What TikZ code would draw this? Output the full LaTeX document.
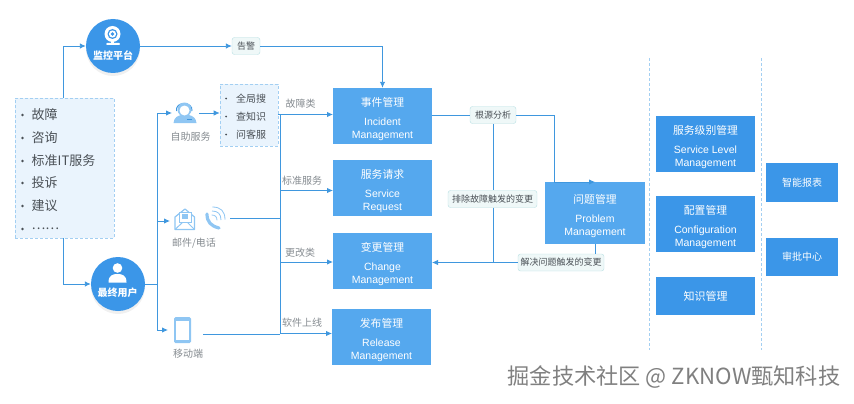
\documentclass[tikz,border=0pt]{standalone}
\usepackage{fontspec}
\setmainfont{Liberation Sans}
\newfontfamily\cjk{Noto Sans CJK SC}
\usetikzlibrary{arrows.meta,shadows}
\definecolor{lineblue}{HTML}{3F97DE}
\definecolor{boxblue}{HTML}{55A8EE}
\definecolor{deepblue}{HTML}{3B96E8}
\definecolor{iconblue}{HTML}{8FC6F3}
\definecolor{paleblue}{HTML}{EAF4FD}
\definecolor{dashblue}{HTML}{A3CFF2}
\definecolor{tagfill}{HTML}{EFF8F8}
\definecolor{tagline}{HTML}{B7DFE2}
\definecolor{greytext}{HTML}{858B90}
\definecolor{darktext}{HTML}{4A5056}
\tikzset{
	flow/.style={draw=lineblue,line width=0.9pt},
	arrow/.style={flow,-{Latex[length=6pt,width=5.5pt]}},
	opsbox/.style={fill=boxblue,text=white,minimum width=99pt,minimum height=56pt,align=center,inner sep=0pt,font=\fontsize{10.5}{13}\selectfont},
	sidebox/.style={opsbox,fill=deepblue},
	hub/.style={circle,fill=deepblue,minimum size=54pt,inner sep=0pt,drop shadow={opacity=0.12,shadow xshift=0pt,shadow yshift=-3pt}},
	hubname/.style={text=white,font=\cjk\bfseries\fontsize{10}{12}\selectfont,inner sep=0pt},
	tag/.style={draw=tagline,fill=tagfill,rounded corners=2.5pt,text=darktext,font=\cjk\fontsize{9}{11}\selectfont,inner sep=0pt,minimum height=17pt},
	note/.style={text=greytext,font=\cjk\fontsize{10}{12}\selectfont,inner sep=0pt},
	listbox/.style={draw=dashblue,fill=paleblue,densely dashed,line width=0.6pt},
	divider/.style={draw=dashblue,densely dashed,line width=0.7pt}
}
\newcommand{\zh}[1]{\rule{0pt}{15pt}{\cjk\fontsize{10.8}{13}\selectfont #1}\\[6pt]}
\begin{document}
\begin{tikzpicture}[x=1pt,y=-1pt]
	\useasboundingbox (0,0) rectangle (854,404);
	% left side: ticket sources
	\node[listbox,minimum width=99pt,minimum height=140pt,inner sep=0pt] (source) at (64.5,168) {};
	\foreach \n/\y/\t in {a/115/故障,b/138/咨询,c/161/标准IT服务,d/183/投诉,e/206/建议,f/229/……}
	\fill[darktext] (22.5,\y) circle (1.3pt) node[anchor=west,xshift=9pt,inner sep=0pt,text=darktext,font=\cjk\fontsize{13}{15}\selectfont] (item\n) {\t};
	\node[hub] (monitor) at (113,46) {};
	\node[hubname] (monitorname) at (113,55.5) {监控平台};
	\node[hub] (user) at (118,284) {};
	\node[hubname] (username) at (117.5,293) {最终用户};
	% webcam
	\fill[white] (112.5,34) circle (8pt);
	\fill[deepblue] (112.5,34) circle (5pt);
	\fill[white] (112.5,34) circle (3.6pt);
	\fill[deepblue] (112.5,34) circle (1.8pt);
	\fill[white] (111,41) rectangle (114,43);
	\fill[white,rounded corners=1pt] (106,43) rectangle (120,45);
	% person
	\fill[white] (117.5,268) circle (4.8pt);
	\fill[white] (108.5,282.5) .. controls (108.5,275) and (113,274) .. (117.5,274) .. controls (122,274) and (126.5,275) .. (126.5,282.5) -- cycle;
	% channels
	\fill[iconblue] (173.5,123) .. controls (174,117) and (178,116) .. (181,115) -- (189,115) .. controls (193,116) and (196,118) .. (196.5,123) -- cycle;
	\draw[lineblue,line width=1pt] (176.5,111) .. controls (175,101) and (193,101) .. (192,111);
	\fill[iconblue] (184.5,109.5) circle (7pt);
	\fill[white] (184.5,110.5) circle (5pt);
	\fill[lineblue] (187,119) rectangle (192,120);
	\node[note] (selfname) at (190.5,137) {自助服务};
	\draw[iconblue,line width=1.2pt,line join=round] (175,217) -- (175,229.5) -- (194.5,229.5) -- (194.5,217) -- (185,209) -- cycle;
	\draw[iconblue,line width=1pt] (175,229.5) -- (183,222) -- (187,222) -- (194.5,229.5);
	\fill[white,draw=iconblue,line width=0.7pt] (179,212) rectangle (191,222);
	\fill[iconblue] (182,214) rectangle (188,219);
	\draw[iconblue,line width=3.2pt,line cap=round] (207,214) .. controls (207,222) and (211,226) .. (219,228);
	\foreach \r in {6,10,14}
	\draw[iconblue,line width=0.8pt] (211+\r*0.1,221-\r) .. controls (211+\r*0.7,221-\r) and (211+\r,221-\r*0.7) .. (211+\r,221-\r*0.1);
	\node[note] (mailname) at (194,243.5) {邮件/电话};
	\fill[iconblue,rounded corners=1.5pt] (174,317) rectangle (191,343);
	\fill[white] (176,320.5) rectangle (189,339.5);
	\node[note] (mobilename) at (188,353.5) {移动端};
	% search box
	\node[listbox,minimum width=58pt,minimum height=62pt,inner sep=0pt] (quick) at (249,115) {};
	\foreach \n/\y/\t in {a/98.5/全局搜,b/116.5/查知识,c/134.5/问客服}
	\fill[darktext] (226,\y) circle (1pt) node[anchor=west,xshift=10pt,inner sep=0pt,text=darktext,font=\cjk\fontsize{10}{12}\selectfont] (quick\n) {\t};
	% process boxes
	\node[opsbox] (incident) at (382.5,116) {\zh{事件管理}Incident\\Management};
	\node[opsbox] (request) at (382.5,188) {\zh{服务请求}Service\\Request};
	\node[opsbox] (change) at (382.5,261) {\zh{变更管理}Change\\Management};
	\node[opsbox] (release) at (381.5,337) {\zh{发布管理}Release\\Management};
	\node[opsbox,minimum height=62pt,minimum width=100pt] (problem) at (595,213) {\zh{问题管理}Problem\\Management};
	\node[sidebox] (level) at (705.5,144) {\zh{服务级别管理}Service Level\\Management};
	\node[sidebox] (config) at (705.5,224) {\zh{配置管理}Configuration\\Management};
	\node[sidebox,minimum height=38pt,font=\cjk\fontsize{11}{13}\selectfont] (knowledge) at (705.5,296) {知识管理};
	\node[sidebox,minimum width=72pt,minimum height=39pt,font=\cjk\fontsize{10}{12}\selectfont] (report) at (802,182.5) {智能报表};
	\node[sidebox,minimum width=72pt,minimum height=38pt,font=\cjk\fontsize{10}{12}\selectfont] (approve) at (802,257) {审批中心};
	\draw[divider] (649,58) -- (649,350);
	\draw[divider] (761,58) -- (761,350);
	% tags
	\node[tag,minimum width=28pt] (alarm) at (246,46) {告警};
	\node[tag,minimum width=46pt] (root) at (493,115) {根源分析};
	\node[tag,minimum width=89pt] (fixfault) at (492.5,199) {排除故障触发的变更};
	\node[tag,minimum width=86pt] (fixproblem) at (561,262.5) {解决问题触发的变更};
	% named points on the lines
	\coordinate (trunktop) at (157,113);
	\coordinate (trunkmail) at (157,221);
	\coordinate (trunkbottom) at (157,330);
	\coordinate (trunkuser) at (157,284);
	\coordinate (selfin) at (172,113);
	\coordinate (selfout) at (199,113);
	\coordinate (mailin) at (170,221);
	\coordinate (mailout) at (230,218);
	\coordinate (mobilein) at (168,330);
	\coordinate (mobileout) at (203,334);
	\coordinate (busa) at (280,114.5);
	\coordinate (busb) at (280,190.5);
	\coordinate (busc) at (280,262);
	\coordinate (busd) at (280,333.5);
	\coordinate (busmail) at (280,218);
	\coordinate (busmobile) at (280,334);
	\coordinate (incidentin) at (333,114.5);
	\coordinate (requestin) at (333,190.5);
	\coordinate (changein) at (333,262);
	\coordinate (releasein) at (332,333.5);
	\coordinate (changeout) at (432,262.5);
	\coordinate (branchtop) at (493,124);
	\coordinate (branchbottom) at (493,262.5);
	\coordinate (rootbend) at (554,115);
	\coordinate (problemtop) at (554,182);
	\coordinate (problemmid) at (595,182);
	% connectors
	\draw[arrow] (source.north -| 63,0) |- (monitor.west);
	\draw[arrow] (source.south -| 63,0) |- (user.west);
	\draw[arrow] (monitor.east) -- (alarm.west);
	\draw[arrow] (alarm.east) -| (incident.north);
	\draw[flow] (user.east) -- (trunkuser);
	\draw[flow] (trunktop) -- (trunkbottom);
	\draw[arrow] (trunktop) -- (selfin);
	\draw[arrow] (trunkmail) -- (mailin);
	\draw[arrow] (trunkbottom) -- (mobilein);
	\draw[arrow] (selfout) -- (quick.west |- selfout);
	\draw[flow] (quick.east |- busa) -- (busa);
	\draw[flow] (busa) -- (busd);
	\draw[flow] (mailout) -- (busmail);
	\draw[flow] (mobileout) -- (busmobile);
	\draw[arrow] (busa) -- (incidentin);
	\draw[arrow] (busb) -- (requestin);
	\draw[arrow] (busc) -- (changein);
	\draw[arrow] (busd) -- (releasein);
	\draw[flow] (incident.east |- root.west) -- (root.west);
	\draw[flow] (root.east) -- (rootbend) -- (problemtop);
	\draw[arrow] (problemtop) -- (problemmid);
	\draw[flow] (branchtop) -- (fixfault.north -| branchtop);
	\draw[flow] (fixfault.south -| branchtop) -- (branchbottom);
	\draw[flow] (problem.south) -- (fixproblem.north -| problem.south);
	\draw[arrow] (fixproblem.west) -- (changeout);
	% line labels
	\node[note] (faultnote) at (300.5,104) {故障类};
	\node[note] (standardnote) at (302,181) {标准服务};
	\node[note] (changenote) at (300,252.5) {更改类};
	\node[note] (softwarenote) at (302,322.5) {软件上线};
	% watermark
	\node[text=black!50,font=\cjk\fontsize{22.2}{26}\selectfont,inner sep=0pt] (mark) at (674,376.5) {掘金技术社区 @ ZKNOW甄知科技};
\end{tikzpicture}
\end{document}
